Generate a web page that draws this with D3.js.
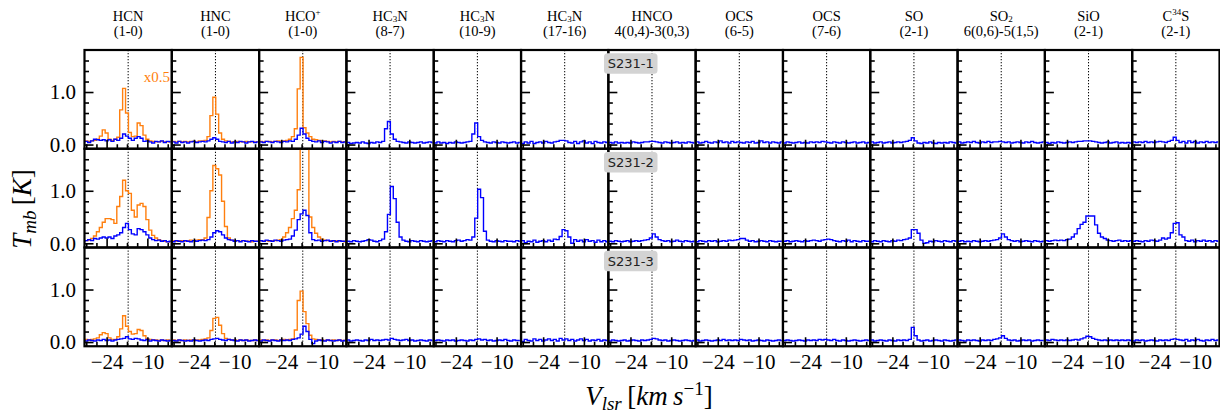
<!DOCTYPE html>
<html><head><meta charset="utf-8">
<script src="https://cdn.jsdelivr.net/npm/d3@7"></script>
<style>body{margin:0;background:#fff;} svg{display:block;}</style>
</head><body><svg id="chart" width="1220" height="413"></svg>
<script>
// ---------------- data ----------------
const vel = [-32,-31,-30,-29,-28,-27,-26,-25,-24,-23,-22,-21,-20,-19,-18,-17,-16,-15,-14,-13,-12,-11,-10,-9,-8,-7,-6,-5,-4,-3,-2];
const molecules = ["HCN","HNC","HCO^+","HC_3N","HC_3N","HC_3N","HNCO","OCS","OCS","SO","SO_2","SiO","C^{34}S"];
const transitions = ["(1-0)","(1-0)","(1-0)","(8-7)","(10-9)","(17-16)","4(0,4)-3(0,3)","(6-5)","(7-6)","(2-1)","6(0,6)-5(1,5)","(2-1)","(2-1)"];
const sources = ["S231-1","S231-2","S231-3"];
const yMajorTicks = [0, 1.0];
const yMinorTicks = [0.2,0.4,0.6,0.8,1.2,1.4,1.6];
const xMajorTicks = [-24,-10];
const xMinorTicks = [-31,-27.5,-20.5,-17,-13.5,-6.5,-3];
const vsys = -16.6;
const scaleNote = "x0.5";

// S231-1
const hcn1o = [0.06,0.07,0.06,0.07,0.08,0.1,0.16,0.28,0.22,0.1,0.08,0.1,0.14,0.66,1.07,0.6,0.23,0.15,0.16,0.41,0.36,0.18,0.1,0.07,0.06,0.05,0.05,0.06,0.05,0.05,0.05];
const hnc1o = [0.05,0.06,0.05,0.06,0.05,0.06,0.05,0.06,0.06,0.05,0.07,0.07,0.08,0.15,0.55,0.9,0.58,0.22,0.1,0.07,0.06,0.05,0.05,0.06,0.05,0.05,0.06,0.05,0.05,0.05,0.05];
const hco1o = [0.05,0.06,0.05,0.06,0.06,0.05,0.06,0.07,0.06,0.07,0.08,0.1,0.15,0.3,1.06,1.66,0.32,0.22,0.15,0.1,0.09,0.08,0.07,0.07,0.06,0.05,0.06,0.05,0.06,0.05,0.05];
const hcn1 = [0.05,0.06,0.04,0.07,0.1,0.09,0.08,0.09,0.07,0.09,0.06,0.1,0.08,0.12,0.2,0.16,0.12,0.08,0.12,0.15,0.12,0.06,0.07,0.05,0.03,0.06,0.05,0.07,0.04,0.06,0.05];
const hnc1 = [0.04,0.05,0.03,0.06,0.04,0.05,0.03,0.05,0.06,0.04,0.05,0.06,0.05,0.07,0.1,0.13,0.1,0.06,0.05,0.04,0.06,0.03,0.05,0.04,0.06,0.05,0.03,0.05,0.06,0.04,0.05];
const hco1 = [0.03,0.05,0.04,0.06,0.05,0.04,0.06,0.05,0.04,0.06,0.05,0.07,0.06,0.1,0.18,0.31,0.2,0.12,0.08,0.06,0.05,0.07,0.04,0.06,0.05,0.03,0.05,0.04,0.06,0.04,0.05];
const hc3n87_1 = [0.03,0.04,0.02,0.03,0.04,0.03,0.05,0.03,0.02,0.04,0.03,0.05,0.04,0.06,0.3,0.44,0.2,0.1,0.06,0.05,0.04,0.03,0.05,0.04,0.03,0.04,0.05,0.03,0.04,0.05,0.04];
const hc3n109_1 = [0.04,0.03,0.05,0.03,0.04,0.02,0.04,0.03,0.05,0.04,0.03,0.04,0.05,0.06,0.2,0.41,0.15,0.08,0.05,0.04,0.03,0.05,0.04,0.03,0.05,0.04,0.03,0.04,0.05,0.03,0.04];
const hc3n1716_1 = [0.04,0.02,0.05,0.03,0.06,0.02,0.04,0.05,0.03,0.06,0.04,0.03,0.05,0.06,0.08,0.08,0.07,0.04,0.03,0.06,0.02,0.05,0.07,0.03,0.05,0.02,0.06,0.04,0.03,0.05,0.04];
const hnco1 = [0.03,0.04,0.03,0.05,0.03,0.04,0.03,0.04,0.03,0.05,0.04,0.03,0.04,0.05,0.05,0.06,0.06,0.05,0.04,0.03,0.05,0.04,0.03,0.04,0.05,0.03,0.04,0.03,0.05,0.04,0.03];
const ocs65_1 = [0.04,0.05,0.03,0.04,0.06,0.04,0.03,0.05,0.04,0.07,0.04,0.05,0.03,0.06,0.04,0.05,0.04,0.03,0.05,0.04,0.06,0.03,0.04,0.07,0.04,0.05,0.03,0.05,0.04,0.03,0.05];
const ocs76_1 = [0.04,0.03,0.05,0.04,0.03,0.04,0.05,0.03,0.04,0.03,0.05,0.04,0.05,0.04,0.06,0.05,0.04,0.03,0.05,0.04,0.03,0.05,0.04,0.03,0.04,0.05,0.03,0.04,0.05,0.03,0.04];
const so_1 = [0.04,0.05,0.03,0.04,0.05,0.03,0.04,0.05,0.03,0.04,0.05,0.04,0.05,0.06,0.08,0.13,0.07,0.03,0.02,0.04,0.03,0.05,0.03,0.02,0.04,0.03,0.04,0.03,0.05,0.04,0.03];
const so2_1 = [0.04,0.05,0.03,0.04,0.05,0.04,0.06,0.04,0.03,0.05,0.04,0.06,0.04,0.05,0.05,0.06,0.05,0.04,0.05,0.03,0.04,0.05,0.04,0.03,0.05,0.04,0.06,0.04,0.03,0.04,0.05];
const sio_1 = [0.03,0.04,0.02,0.04,0.03,0.05,0.04,0.03,0.04,0.05,0.04,0.05,0.06,0.06,0.07,0.07,0.07,0.06,0.05,0.04,0.03,0.04,0.05,0.03,0.04,0.05,0.03,0.04,0.03,0.04,0.03];
const c34s_1 = [0.03,0.05,0.04,0.05,0.04,0.06,0.04,0.05,0.04,0.05,0.06,0.05,0.04,0.06,0.08,0.14,0.08,0.04,0.06,0.03,0.07,0.04,0.06,0.03,0.05,0.04,0.06,0.04,0.05,0.04,0.05];

// S231-2
const hcn2o = [0.05,0.05,0.06,0.09,0.14,0.22,0.3,0.4,0.47,0.47,0.45,0.38,0.7,0.89,1.2,1.0,0.95,0.63,0.5,0.73,0.76,0.7,0.45,0.25,0.15,0.1,0.07,0.05,0.04,0.03,0.03];
const hnc2o = [0.04,0.05,0.04,0.05,0.05,0.04,0.05,0.06,0.05,0.06,0.07,0.07,0.1,0.49,1.0,1.48,1.42,1.3,0.8,0.32,0.1,0.06,0.05,0.05,0.04,0.05,0.04,0.04,0.03,0.04,0.04];
const hco2o = [0.04,0.05,0.04,0.05,0.04,0.05,0.05,0.06,0.07,0.12,0.2,0.3,0.47,0.63,1.02,2.4,2.8,2.2,0.5,0.3,0.19,0.12,0.08,0.06,0.05,0.05,0.04,0.05,0.04,0.04,0.03];
const hcn2 = [0.04,0.05,0.07,0.05,0.09,0.08,0.1,0.12,0.1,0.12,0.09,0.14,0.16,0.2,0.3,0.38,0.26,0.18,0.16,0.28,0.26,0.22,0.16,0.1,0.07,0.05,0.06,0.04,0.05,0.03,0.04];
const hnc2 = [0.04,0.03,0.05,0.04,0.03,0.05,0.04,0.03,0.05,0.04,0.05,0.06,0.05,0.07,0.12,0.2,0.24,0.22,0.16,0.1,0.07,0.06,0.04,0.05,0.03,0.05,0.04,0.03,0.05,0.04,0.04];
const hco2 = [0.04,0.05,0.04,0.06,0.05,0.04,0.06,0.05,0.04,0.06,0.07,0.08,0.14,0.25,0.45,0.56,0.63,0.53,0.2,0.07,0.05,0.06,0.04,0.05,0.06,0.04,0.05,0.03,0.05,0.04,0.04];
const hc3n87_2 = [0.03,0.04,0.03,0.05,0.04,0.03,0.04,0.05,0.07,0.06,0.04,0.03,0.05,0.08,0.22,0.55,1.08,0.85,0.4,0.12,0.06,0.04,0.03,0.05,0.04,0.03,0.05,0.04,0.03,0.04,0.05];
const hc3n109_2 = [0.04,0.03,0.05,0.04,0.03,0.05,0.04,0.03,0.05,0.06,0.04,0.05,0.07,0.06,0.12,0.48,1.03,0.87,0.23,0.06,0.04,0.03,0.05,0.04,0.03,0.05,0.04,0.04,0.03,0.05,0.04];
const hc3n1716_2 = [0.02,0.05,0.01,0.04,0.03,0.06,0.02,0.04,0.05,0.03,0.06,0.04,0.08,0.07,0.13,0.26,0.24,0.12,0.0,0.07,0.04,0.06,0.03,0.07,0.04,0.05,0.02,0.06,0.03,0.05,0.03];
const hnco2 = [0.03,0.04,0.03,0.05,0.04,0.03,0.04,0.05,0.03,0.04,0.05,0.04,0.05,0.06,0.07,0.1,0.18,0.12,0.07,0.05,0.04,0.05,0.03,0.04,0.06,0.04,0.03,0.05,0.04,0.03,0.04];
const ocs65_2 = [0.04,0.03,0.05,0.04,0.03,0.05,0.04,0.05,0.03,0.04,0.05,0.04,0.06,0.05,0.06,0.07,0.09,0.09,0.06,0.04,0.05,0.03,0.04,0.05,0.04,0.03,0.05,0.04,0.03,0.04,0.04];
const ocs76_2 = [0.03,0.04,0.05,0.03,0.04,0.05,0.04,0.03,0.05,0.04,0.05,0.06,0.05,0.04,0.06,0.07,0.08,0.07,0.05,0.04,0.03,0.05,0.04,0.06,0.03,0.05,0.04,0.03,0.05,0.04,0.04];
const so_2 = [0.04,0.03,0.05,0.04,0.03,0.05,0.04,0.03,0.05,0.04,0.06,0.05,0.07,0.08,0.1,0.26,0.26,0.19,0.06,0.0,0.01,0.04,0.03,0.05,0.04,0.03,0.05,0.04,0.03,0.05,0.04];
const so2_2 = [0.03,0.04,0.05,0.03,0.04,0.03,0.05,0.04,0.03,0.04,0.05,0.04,0.05,0.06,0.07,0.1,0.18,0.12,0.07,0.05,0.04,0.05,0.03,0.04,0.05,0.04,0.03,0.05,0.04,0.03,0.04];
const sio_2 = [0.04,0.05,0.04,0.05,0.06,0.05,0.06,0.05,0.07,0.08,0.12,0.18,0.28,0.36,0.4,0.52,0.52,0.52,0.35,0.19,0.12,0.09,0.06,0.05,0.04,0.05,0.06,0.04,0.05,0.04,0.05];
const c34s_2 = [0.03,0.04,0.05,0.04,0.03,0.05,0.04,0.06,0.05,0.04,0.06,0.1,0.08,0.1,0.2,0.38,0.39,0.16,0.12,0.05,0.04,0.06,0.03,0.05,0.04,0.06,0.04,0.05,0.03,0.05,0.04];

// S231-3
const hcn3o = [0.04,0.05,0.04,0.05,0.06,0.08,0.14,0.18,0.16,0.08,0.05,0.05,0.1,0.25,0.5,0.3,0.2,0.15,0.16,0.24,0.22,0.12,0.06,0.05,0.04,0.04,0.03,0.04,0.03,0.04,0.03];
const hnc3o = [0.03,0.04,0.03,0.04,0.03,0.04,0.03,0.04,0.03,0.04,0.04,0.05,0.06,0.08,0.22,0.45,0.47,0.32,0.16,0.07,0.05,0.04,0.04,0.03,0.04,0.03,0.04,0.03,0.03,0.04,0.03];
const hco3o = [0.03,0.04,0.03,0.04,0.03,0.04,0.04,0.03,0.04,0.05,0.04,0.05,0.06,0.23,0.79,0.97,0.58,0.35,0.13,0.06,0.05,0.04,0.04,0.03,0.04,0.03,0.04,0.03,0.04,0.03,0.03];
const hcn3 = [0.03,0.02,0.04,0.03,0.02,0.04,0.03,0.05,0.03,0.04,0.02,0.04,0.05,0.06,0.07,0.1,0.06,0.05,0.07,0.06,0.04,0.03,0.05,0.02,0.04,0.03,0.02,0.04,0.03,0.02,0.03];
const hnc3 = [0.02,0.03,0.02,0.04,0.03,0.02,0.03,0.02,0.04,0.03,0.02,0.03,0.04,0.03,0.05,0.06,0.07,0.05,0.04,0.03,0.05,0.04,0.03,0.02,0.04,0.03,0.04,0.02,0.03,0.04,0.03];
const hco3 = [0.03,0.02,0.04,0.03,0.02,0.04,0.03,0.02,0.04,0.03,0.04,0.03,0.05,0.06,0.08,0.15,0.3,0.2,0.05,-0.03,0.02,0.04,0.03,0.02,0.04,0.03,0.02,0.03,0.04,0.02,0.03];
const hc3n87_3 = [0.03,0.04,0.02,0.03,0.04,0.03,0.02,0.04,0.03,0.05,0.03,0.04,0.03,0.04,0.05,0.04,0.07,0.05,0.04,0.03,0.04,0.05,0.03,0.04,0.02,0.03,0.04,0.03,0.02,0.04,0.03];
const hc3n109_3 = [0.02,0.03,0.04,0.03,0.02,0.04,0.03,0.04,0.02,0.03,0.04,0.03,0.02,0.04,0.03,0.05,0.06,0.04,0.05,0.03,0.04,0.02,0.03,0.04,0.03,0.05,0.03,0.02,0.04,0.03,0.03];
const hc3n1716_3 = [0.04,0.01,0.05,0.03,0.02,0.06,0.03,0.05,0.02,0.04,0.06,0.03,0.05,0.02,0.07,0.04,0.06,0.03,0.05,0.02,0.04,0.06,0.03,0.05,0.02,0.04,0.03,0.05,0.02,0.04,0.03];
const hnco3 = [0.03,0.02,0.04,0.03,0.02,0.03,0.04,0.02,0.03,0.04,0.03,0.02,0.04,0.03,0.04,0.05,0.07,0.06,0.04,0.03,0.04,0.02,0.03,0.04,0.03,0.02,0.03,0.04,0.03,0.02,0.03];
const ocs65_3 = [0.03,0.04,0.02,0.03,0.04,0.03,0.02,0.03,0.04,0.03,0.05,0.03,0.04,0.03,0.04,0.03,0.05,0.04,0.03,0.04,0.02,0.03,0.04,0.03,0.02,0.04,0.03,0.02,0.03,0.04,0.03];
const ocs76_3 = [0.02,0.03,0.04,0.03,0.02,0.03,0.04,0.03,0.02,0.04,0.03,0.04,0.03,0.05,0.04,0.05,0.04,0.03,0.05,0.03,0.02,0.04,0.03,0.02,0.03,0.04,0.03,0.02,0.03,0.04,0.03];
const so_3 = [0.03,0.04,0.02,0.03,0.04,0.03,0.02,0.04,0.03,0.02,0.04,0.03,0.04,0.03,0.05,0.28,0.12,0.04,0.02,0.03,0.04,0.02,0.03,0.04,0.03,0.02,0.04,0.03,0.02,0.03,0.04];
const so2_3 = [0.03,0.04,0.03,0.02,0.04,0.03,0.04,0.03,0.02,0.04,0.03,0.04,0.03,0.05,0.06,0.08,0.12,0.07,0.04,0.03,0.04,0.02,0.03,0.04,0.03,0.04,0.02,0.03,0.04,0.03,0.03];
const sio_3 = [0.03,0.04,0.03,0.05,0.04,0.03,0.04,0.03,0.04,0.03,0.04,0.05,0.04,0.06,0.08,0.11,0.1,0.07,0.05,0.04,0.03,0.04,0.03,0.04,0.03,0.04,0.03,0.04,0.03,0.04,0.03];
const c34s_3 = [0.03,0.02,0.04,0.03,0.04,0.02,0.03,0.04,0.03,0.02,0.04,0.03,0.04,0.03,0.05,0.06,0.05,0.04,0.03,0.05,0.02,0.04,0.03,0.05,0.03,0.02,0.04,0.03,0.05,0.03,0.04];

const blueRows = [
  [hcn1,hnc1,hco1,hc3n87_1,hc3n109_1,hc3n1716_1,hnco1,ocs65_1,ocs76_1,so_1,so2_1,sio_1,c34s_1],
  [hcn2,hnc2,hco2,hc3n87_2,hc3n109_2,hc3n1716_2,hnco2,ocs65_2,ocs76_2,so_2,so2_2,sio_2,c34s_2],
  [hcn3,hnc3,hco3,hc3n87_3,hc3n109_3,hc3n1716_3,hnco3,ocs65_3,ocs76_3,so_3,so2_3,sio_3,c34s_3]
];
const orangeRows = [[hcn1o,hnc1o,hco1o],[hcn2o,hnc2o,hco2o],[hcn3o,hnc3o,hco3o]];

// ---------------- drawing ----------------
const svg = d3.select("#chart");
const L = 84.5, R = 1219.5, T = 50, rowH = 98.75, nCol = 13, colW = (R - L) / nCol;
const SERIF = "'Liberation Serif', 'Times New Roman', serif";
const x = d3.scaleLinear().domain([-31.6, -1.6]).range([0, colW]);
const y = d3.scaleLinear().domain([-0.08, 1.8]).range([rowH, 0]);
const line = d3.line().x((d, i) => x(vel[i])).y(d => y(d)).curve(d3.curveStep);

svg.append("defs").append("clipPath").attr("id", "clip")
  .append("rect").attr("width", colW).attr("height", rowH);

function styleAxis(g, fontSize) {
  g.select(".domain").remove();
  g.selectAll(".tick line").attr("stroke", "#000").attr("stroke-width", 1.6);
  g.selectAll("text").attr("font-family", SERIF).attr("font-size", fontSize).attr("fill", "#000");
}

for (let r = 0; r < 3; r++) {
  for (let c = 0; c < nCol; c++) {
    const g = svg.append("g").attr("transform", `translate(${L + c * colW},${T + r * rowH})`);
    const pg = g.append("g").attr("clip-path", "url(#clip)");
    pg.append("line").attr("x1", x(vsys)).attr("x2", x(vsys)).attr("y1", 0).attr("y2", rowH)
      .attr("stroke", "#000").attr("stroke-width", 1).attr("stroke-dasharray", "1.3,1.7");
    if (c < orangeRows[r].length) {
      pg.append("path").datum(orangeRows[r][c]).attr("d", line)
        .attr("fill", "none").attr("stroke", "#ff7f0e").attr("stroke-width", 1.4);
    }
    pg.append("path").datum(blueRows[r][c]).attr("d", line)
      .attr("fill", "none").attr("stroke", "#0000ff").attr("stroke-width", 1.4);

    g.append("g").call(d3.axisLeft(y).tickValues(yMajorTicks).tickSize(-9).tickPadding(8.5)
      .tickFormat(c === 0 ? d3.format(".1f") : () => "")).call(s => styleAxis(s, 21));
    g.append("g").call(d3.axisLeft(y).tickValues(yMinorTicks).tickSize(-4.5).tickFormat(() => ""))
      .call(s => styleAxis(s, 21));
    g.append("g").attr("transform", `translate(0,${rowH})`)
      .call(d3.axisBottom(x).tickValues(xMajorTicks).tickSize(-9).tickPadding(8)
        .tickFormat(r === 2 ? d3.format("d") : () => "")).call(s => styleAxis(s, 21));
    g.append("g").attr("transform", `translate(0,${rowH})`)
      .call(d3.axisBottom(x).tickValues(xMinorTicks).tickSize(-4.5).tickFormat(() => ""))
      .call(s => styleAxis(s, 21));

    g.append("rect").attr("width", colW).attr("height", rowH)
      .attr("fill", "none").attr("stroke", "#000").attr("stroke-width", 2.2);

    if (r === 0 && c === 0) {
      g.append("text").attr("x", colW - 1.8).attr("y", 32).attr("text-anchor", "end")
        .attr("font-family", SERIF).attr("font-size", 15).attr("fill", "#ff7f0e").text(scaleNote);
    }
  }
}

// rich text helper: "_x" / "_{..}" subscript, "^x" / "^{..}" superscript
function richText(sel, str, size) {
  const parts = str.match(/(_\{[^}]*\}|_.|\^\{[^}]*\}|\^.|[^_^]+)/g);
  let shift = 0;
  parts.forEach(p => {
    let kind = "n", t = p;
    if (p[0] === "_") { kind = "sub"; t = p.slice(1).replace(/[{}]/g, ""); }
    else if (p[0] === "^") { kind = "sup"; t = p.slice(1).replace(/[{}]/g, ""); }
    const target = kind === "sub" ? size * 0.1 : kind === "sup" ? -size * 0.38 : 0;
    sel.append("tspan").attr("dy", target - shift)
      .attr("font-size", kind === "n" ? size : size * 0.62).text(t);
    shift = target;
  });
}

// column titles
molecules.forEach((m, c) => {
  const cx = L + (c + 0.5) * colW;
  const t1 = svg.append("text").attr("x", cx).attr("y", 20.5).attr("text-anchor", "middle")
    .attr("font-family", SERIF).attr("font-size", 14.5).attr("fill", "#000");
  richText(t1, m, 14.5);
  svg.append("text").attr("x", cx).attr("y", 36).attr("text-anchor", "middle")
    .attr("font-family", SERIF).attr("font-size", 14.5).attr("fill", "#000").text(transitions[c]);
});

// source boxes
sources.forEach((s, r) => {
  const top = T + r * rowH;
  svg.append("rect").attr("x", 604).attr("y", top + 3.2).attr("width", 53.5).attr("height", 20.5)
    .attr("rx", 3.5).attr("fill", "#d3d3d3");
  svg.append("text").attr("x", 630.8).attr("y", top + 18.3).attr("text-anchor", "middle")
    .attr("font-family", "'DejaVu Sans', sans-serif").attr("font-size", 13).attr("fill", "#222").text(s);
});

// axis labels
const yl = svg.append("text").attr("transform", "translate(31,209) rotate(-90)")
  .attr("text-anchor", "middle").attr("font-family", SERIF).attr("font-size", 27).attr("fill", "#000");
yl.append("tspan").attr("font-style", "italic").text("T");
yl.append("tspan").attr("font-style", "italic").attr("font-size", 19).attr("dy", 5).text("mb");
yl.append("tspan").attr("dy", -5).text("\u2009[");
yl.append("tspan").attr("font-style", "italic").text("K");
yl.append("tspan").text("]");

const xl = svg.append("text").attr("x", 649).attr("y", 404.5)
  .attr("text-anchor", "middle").attr("font-family", SERIF).attr("font-size", 27).attr("fill", "#000");
xl.append("tspan").attr("font-style", "italic").text("V");
xl.append("tspan").attr("font-style", "italic").attr("font-size", 19).attr("dy", 5).text("lsr");
xl.append("tspan").attr("dy", -5).text("\u2009[");
xl.append("tspan").attr("font-style", "italic").text("km\u2009s");
xl.append("tspan").attr("font-size", 19).attr("dy", -10).text("\u22121");
xl.append("tspan").attr("dy", 10).text("]");
</script></body></html>
